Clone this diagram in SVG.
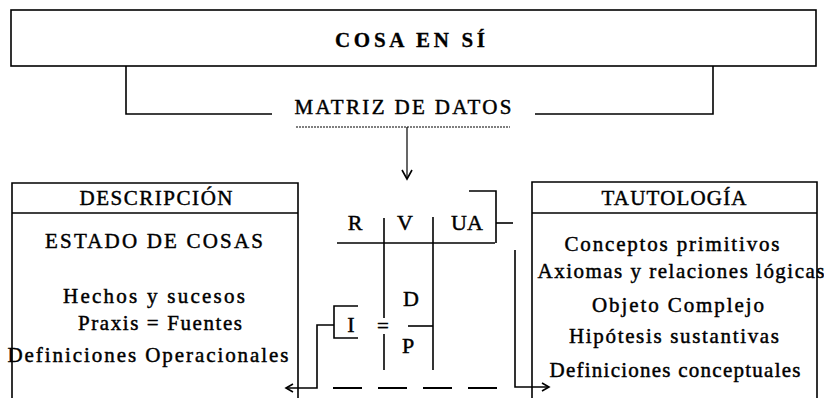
<svg xmlns="http://www.w3.org/2000/svg" width="824" height="398" viewBox="0 0 824 398">
<style>
text{font-family:"Liberation Serif","DejaVu Serif",serif;fill:#000;stroke:#000;stroke-width:0.45}
.t{font-size:21px;text-anchor:middle}
.l{font-size:22px}
.b{font-weight:bold;stroke-width:0.3}
.ln{stroke:#000;stroke-width:1.6;fill:none}
.th{stroke:#000;stroke-width:1.2;fill:none}
</style>
<rect width="824" height="398" fill="#fff"/>
<g id="cosa-en-si">
<rect class="ln" x="11" y="10" width="805" height="56"/>
<text class="t b" x="410" y="47" font-size="20" textLength="150" lengthAdjust="spacing">COSA EN SÍ</text>
</g>
<g id="matriz-de-datos">
<text class="t" x="403" y="114" textLength="217" lengthAdjust="spacing">MATRIZ DE DATOS</text>
<line class="th" x1="296" y1="127" x2="510" y2="127" stroke-dasharray="2 1"/>
</g>
<g id="descripcion">
<path class="ln" d="M12 398V183H298V398"/>
<line class="ln" x1="12" y1="213" x2="298" y2="213"/>
<text class="t" x="156" y="205" font-size="19" textLength="153" lengthAdjust="spacing">DESCRIPCIÓN</text>
<text class="t" x="154" y="248" textLength="218" lengthAdjust="spacing">ESTADO DE COSAS</text>
<text class="t" x="154" y="303" textLength="182" lengthAdjust="spacing">Hechos y sucesos</text>
<text class="t" x="160" y="330" textLength="164" lengthAdjust="spacing">Praxis = Fuentes</text>
<text class="t" x="148" y="362" textLength="281" lengthAdjust="spacing">Definiciones Operacionales</text>
</g>
<g id="tautologia">
<path class="ln" d="M532 398V182H817V398"/>
<line class="ln" x1="532" y1="213" x2="817" y2="213"/>
<text class="t" x="674" y="205" font-size="19" textLength="145" lengthAdjust="spacing">TAUTOLOGÍA</text>
<text class="t" x="672" y="251" textLength="215" lengthAdjust="spacing">Conceptos primitivos</text>
<text class="t" x="681" y="278" textLength="287" lengthAdjust="spacing">Axiomas y relaciones lógicas</text>
<text class="t" x="678" y="312" textLength="172" lengthAdjust="spacing">Objeto Complejo</text>
<text class="t" x="674" y="343" textLength="210" lengthAdjust="spacing">Hipótesis sustantivas</text>
<text class="t" x="675" y="377" textLength="251" lengthAdjust="spacing">Definiciones conceptuales</text>
</g>
<g id="rvua">
<line class="ln" x1="337" y1="243" x2="495" y2="243"/>
<line class="ln" x1="384" y1="218" x2="384" y2="318"/>
<line class="ln" x1="384" y1="334" x2="384" y2="370"/>
<line class="ln" x1="433" y1="217" x2="433" y2="370"/>
<line class="ln" x1="408" y1="326" x2="433" y2="326"/>
<path class="ln" d="M469 191H496V243"/>
<text class="t l" x="355" y="230">R</text>
<text class="t l" x="405" y="230">V</text>
<text class="t l" x="467" y="230">UA</text>
<text class="t l" x="411" y="306">D</text>
<text class="t l" x="408" y="353">P</text>
<text class="t" x="383" y="333">=</text>
</g>
<g id="i-node">
<path class="ln" d="M358 306H334V338H358"/>
<text class="t l" x="351" y="332">I</text>
</g>
<g id="connectors">
<path class="ln" d="M126 66V114H272"/>
<path class="ln" d="M713 66V114H535"/>
<line class="th" x1="407" y1="127" x2="407" y2="179"/>
<polyline class="ln" points="402,170 407,179 412,170"/>
<path class="ln" d="M496 223H513"/>
<path class="ln" d="M334 325H317V388H286"/>
<polyline class="ln" points="293,384 286,388 293,392"/>
<path class="ln" d="M515 250V387H549"/>
<polyline class="ln" points="542,383 549,387 542,391"/>
<line x1="333" y1="388" x2="497" y2="388" stroke="#000" stroke-width="2" stroke-dasharray="29 16"/>
</g>
</svg>
